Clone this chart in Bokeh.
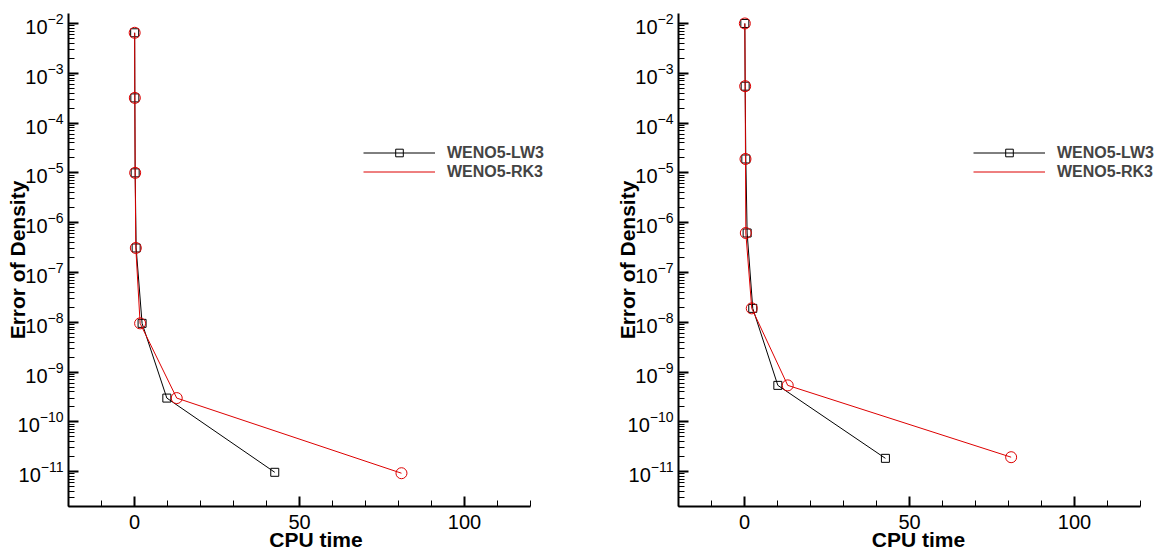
from bokeh.plotting import figure
from bokeh.layouts import row
from bokeh.models import (Range1d, FixedTicker, SingleIntervalTicker, Legend,
                          LegendItem)
from bokeh.embed import file_html
from bokeh.resources import INLINE

# ---------------- data ----------------
series_names = ["WENO5-LW3", "WENO5-RK3"]

left_lw3_x = [0.05, 0.1, 0.2, 0.5, 2.3, 9.8, 42.5]
left_lw3_y = [6.5e-3, 3.2e-4, 1.0e-5, 3.1e-7, 9.5e-9, 3.0e-10, 9.7e-12]
left_rk3_x = [0.05, 0.1, 0.2, 0.4, 1.7, 12.8, 80.9]
left_rk3_y = [6.5e-3, 3.2e-4, 1.0e-5, 3.1e-7, 9.5e-9, 3.0e-10, 9.3e-12]

right_lw3_x = [0.1, 0.2, 0.4, 0.8, 2.5, 10.1, 42.7]
right_lw3_y = [1.0e-2, 5.5e-4, 1.9e-5, 6.2e-7, 1.9e-8, 5.4e-10, 1.85e-11]
right_rk3_x = [0.1, 0.2, 0.3, 0.4, 2.2, 13.1, 80.8]
right_rk3_y = [1.0e-2, 5.5e-4, 1.9e-5, 6.2e-7, 1.9e-8, 5.4e-10, 1.95e-11]

y_major_ticks = [1e-2, 1e-3, 1e-4, 1e-5, 1e-6, 1e-7, 1e-8, 1e-9, 1e-10, 1e-11]
x_label = "CPU time"
y_label = "Error of Density"

X_START, X_END = -20, 120
Y_START, Y_END = 10 ** -11.7, 10 ** -1.8

BLACK = "#000000"
RED = "#dd0000"
FONT = "Liberation Sans"

PX_PER_UNIT = 3.3   # 462 px frame for the -20..120 axis


def make_panel(lw_x, lw_y, rk_x, rk_y, frame_w, total_w):
    x_end_view = X_START + frame_w / PX_PER_UNIT
    p = figure(width=total_w, height=551, frame_width=frame_w, frame_height=493,
               y_axis_type="log", output_backend="svg", toolbar_location=None,
               x_range=Range1d(X_START, x_end_view), y_range=Range1d(Y_START, Y_END),
               min_border_left=68, min_border_right=total_w - 68 - frame_w,
               min_border_top=13, min_border_bottom=45)
    p.outline_line_color = None
    p.xgrid.visible = False
    p.ygrid.visible = False

    minor = [k * 10.0 ** e for e in range(-12, -1) for k in range(2, 10)]
    p.yaxis.ticker = FixedTicker(ticks=y_major_ticks, minor_ticks=minor)
    p.xaxis.ticker = SingleIntervalTicker(interval=50, num_minor_ticks=5)
    p.xaxis.bounds = (X_START, X_END)

    for ax in (p.xaxis[0], p.yaxis[0]):
        ax.axis_line_width = 2
        ax.axis_line_color = "black"
        ax.major_tick_in = 10
        ax.major_tick_out = 0
        ax.minor_tick_in = 6
        ax.minor_tick_out = 0
        ax.major_tick_line_width = 2
        ax.minor_tick_line_width = 1
        ax.major_tick_line_color = "black"
        ax.minor_tick_line_color = "black"
        ax.major_label_text_font = FONT
        ax.major_label_text_font_size = "20px"
        ax.major_label_text_color = "black"
        ax.axis_label_text_font = FONT
        ax.axis_label_text_font_style = "bold"
        ax.axis_label_text_font_size = "21px"
        ax.axis_label_text_color = "black"
    p.yaxis.major_label_standoff = 5
    p.xaxis.major_label_standoff = 8
    p.xaxis.axis_label = x_label
    p.yaxis.axis_label = y_label
    p.xaxis.axis_label_standoff = -4
    p.yaxis.axis_label_standoff = -14

    r_lw_line = p.line(lw_x, lw_y, line_color=BLACK, line_width=1)
    r_lw_mark = p.scatter(lw_x, lw_y, marker="square", size=8,
                          line_color=BLACK, fill_color=None, line_width=1)
    r_rk_line = p.line(rk_x, rk_y, line_color=RED, line_width=1)
    p.scatter(rk_x, rk_y, marker="circle", size=11,
              line_color=RED, fill_color=None, line_width=1)

    legend = Legend(items=[LegendItem(label=series_names[0], renderers=[r_lw_line, r_lw_mark]),
                           LegendItem(label=series_names[1], renderers=[r_rk_line])],
                    location=(295, 325))
    legend.glyph_width = 72
    legend.glyph_height = 19
    legend.label_height = 19
    legend.label_standoff = 12
    legend.spacing = 0
    legend.padding = 0
    legend.margin = 0
    legend.border_line_alpha = 0
    legend.background_fill_alpha = 0
    legend.label_text_font = FONT
    legend.label_text_font_style = "bold"
    legend.label_text_font_size = "16px"
    p.add_layout(legend)
    return p


p1 = make_panel(left_lw3_x, left_lw3_y, left_rk3_x, left_rk3_y, 495, 610)
p2 = make_panel(right_lw3_x, right_lw3_y, right_rk3_x, right_rk3_y, 480, 548)

layout = row(p1, p2)
open("out.html", "w").write(file_html(layout, INLINE))
